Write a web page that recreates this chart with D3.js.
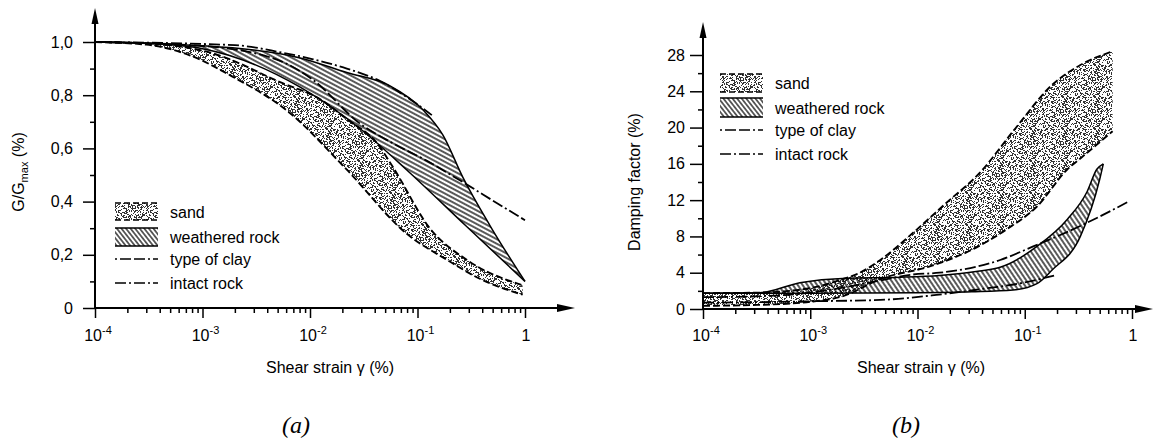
<!DOCTYPE html>
<html>
<head>
<meta charset="utf-8">
<script src="https://cdn.jsdelivr.net/npm/d3@7"></script>
<style>
  body { margin: 0; background: #fff; }
  svg { display: block; }
  text { font-family: "Liberation Sans", Arial, sans-serif; fill: #000; }
</style>
</head>
<body>
<svg id="chart" width="1154" height="443"></svg>
<script>
// ---------- axis ticks and labels ----------
const strainDecades = [1e-4, 1e-3, 1e-2, 1e-1, 1];
const strainDecadeLabels = [["10", "-4"], ["10", "-3"], ["10", "-2"], ["10", "-1"], ["1", ""]];
const modulusTicks = [0, 0.2, 0.4, 0.6, 0.8, 1.0];
const modulusTickLabels = ["0", "0,2", "0,4", "0,6", "0,8", "1,0"];
const modulusMinorTicks = [0.1, 0.3, 0.5, 0.7, 0.9];
const dampingTicks = [0, 4, 8, 12, 16, 20, 24, 28];
const dampingMinorTicks = [2, 6, 10, 14, 18, 22, 26];
const legendLabels = ["sand", "weathered rock", "type of clay", "intact rock"];

// ---------- (a) G/Gmax vs shear strain [strain %, G/Gmax] ----------
const sandUpperA = [[0.0001, 1.0], [0.0003, 0.995], [0.0013, 0.955], [0.0052, 0.85], [0.013, 0.78],
  [0.022, 0.71], [0.042, 0.62], [0.059, 0.53], [0.13, 0.30], [0.29, 0.18], [0.95, 0.085]];
const sandLowerA = [[0.0001, 1.0], [0.0003, 0.99], [0.00076, 0.95], [0.0019, 0.87], [0.0062, 0.74],
  [0.022, 0.52], [0.079, 0.28], [0.19, 0.18], [0.38, 0.11], [0.95, 0.05]];
const rockUpperA = [[0.0001, 1.0], [0.0019, 0.978], [0.0081, 0.94], [0.022, 0.885], [0.0555, 0.835],
  [0.1125, 0.745], [0.1725, 0.65], [0.265, 0.49], [0.472, 0.31], [1.0, 0.10]];
const rockLowerA = [[0.0001, 1.0], [0.0003, 0.995], [0.001, 0.975], [0.0081, 0.83], [0.03, 0.67],
  [0.079, 0.52], [0.28, 0.31], [1.0, 0.10]];
const clayA = [[0.0001, 1.0], [0.001, 0.985], [0.0052, 0.93], [0.0081, 0.89], [0.0107, 0.857],
  [0.029, 0.694], [0.059, 0.619], [0.12, 0.555], [0.25, 0.479], [0.56, 0.392], [1.0, 0.33]];
const intactA = [[0.0001, 1.0], [0.002, 0.988], [0.0052, 0.962], [0.0107, 0.935], [0.022, 0.90],
  [0.045, 0.853], [0.085, 0.785], [0.136, 0.725]];

// ---------- (b) damping factor vs shear strain [strain %, damping %] ----------
const sandUpperB = [[0.0001, 1.75], [0.00032, 1.8], [0.001, 2.3], [0.0019, 3.2], [0.0029, 4.0],
  [0.0045, 5.4], [0.0091, 8.4], [0.019, 11.8], [0.038, 15.0], [0.078, 19.6], [0.18, 24.7],
  [0.33, 26.9], [0.66, 28.4]];
const sandLowerB = [[0.0001, 0.35], [0.00032, 0.45], [0.001, 0.8], [0.002, 1.4], [0.0045, 3.3],
  [0.013, 4.7], [0.033, 6.6], [0.068, 8.8], [0.13, 11.3], [0.25, 15.4], [0.33, 16.6], [0.66, 19.6]];
const rockUpperB = [[0.0001, 1.75], [0.00034, 1.8], [0.0008, 2.9], [0.0022, 3.4], [0.0069, 3.5],
  [0.016, 3.7], [0.038, 4.2], [0.059, 4.6], [0.13, 6.9], [0.25, 9.9], [0.38, 12.9], [0.47, 15.4], [0.54, 16.0]];
const rockLowerB = [[0.0001, 1.75], [0.001, 1.75], [0.01, 1.8], [0.032, 1.9], [0.078, 2.1],
  [0.13, 2.8], [0.18, 4.3], [0.33, 8.0], [0.5, 14.3], [0.54, 16.0]];
const clayB = [[0.0001, 1.3], [0.00032, 1.4], [0.001, 1.8], [0.0032, 2.8], [0.0091, 3.8], [0.016, 4.0],
  [0.059, 5.4], [0.12, 6.9], [0.2, 8.0], [0.35, 9.3], [0.95, 11.9]];
const intactB = [[0.0001, 0.7], [0.00032, 0.75], [0.001, 0.85], [0.0045, 1.0], [0.015, 1.55],
  [0.045, 2.3], [0.079, 2.7], [0.19, 3.7]];

// ---------- line styles ----------
const DASH_SAND = "7,3";
const DASH_CLAY = "11,3,11,3,2,3";
const DASH_INTACT = "11,3,2,3";

const svg = d3.select("#chart");
const defs = svg.append("defs");

// stipple texture for the sand bands (deterministic speckle)
function addStipple(id, size, density, seed) {
  const p = defs.append("pattern").attr("id", id)
    .attr("width", size).attr("height", size).attr("patternUnits", "userSpaceOnUse");
  let s = seed;
  const next = () => { s = (s * 16807) % 2147483647; return s / 2147483647; };
  const n = Math.round(size * size * density);
  for (let i = 0; i < n; i++) {
    p.append("rect").attr("x", Math.floor(next() * size)).attr("y", Math.floor(next() * size))
      .attr("width", 1).attr("height", 1).attr("fill", "#333");
  }
}
// diagonal hatching for the weathered-rock bands
function addHatch(id, angle, gap, width) {
  const p = defs.append("pattern").attr("id", id)
    .attr("width", 20).attr("height", gap).attr("patternUnits", "userSpaceOnUse")
    .attr("patternTransform", `rotate(${angle})`);
  p.append("line").attr("x1", 0).attr("x2", 20).attr("y1", gap / 2).attr("y2", gap / 2)
    .attr("stroke", "#000").attr("stroke-width", width);
}
addStipple("stipple", 32, 0.48, 12345);
addHatch("hatchA", 28, 4, 1.3);
addHatch("hatchB", 56, 4, 1.3);
addHatch("hatchLegend", 52, 3.6, 1.2);

function panel(cfg) {
  const g = svg.append("g");
  const x = cfg.x, y = cfg.y;
  const line = d3.line().x(d => x(d[0])).y(d => y(d[1])).curve(d3.curveMonotoneX);
  const band = (upper, lower) =>
    line(upper) + line(lower.slice().reverse()).replace(/^M/, "L") + "Z";

  // bands
  g.append("path").attr("d", band(cfg.sandUpper, cfg.sandLower)).attr("fill", "url(#stipple)");
  g.append("path").attr("d", band(cfg.rockUpper, cfg.rockLower)).attr("fill", `url(#${cfg.hatch})`);

  // band outlines
  [cfg.sandUpper, cfg.sandLower].forEach(s =>
    g.append("path").attr("d", line(s)).attr("fill", "none").attr("stroke", "#000")
      .attr("stroke-width", 1.9).attr("stroke-dasharray", DASH_SAND));
  [cfg.rockUpper, cfg.rockLower].forEach(s =>
    g.append("path").attr("d", line(s)).attr("fill", "none").attr("stroke", "#000")
      .attr("stroke-width", 1.5));

  // single curves
  g.append("path").attr("d", line(cfg.clay)).attr("fill", "none").attr("stroke", "#000")
    .attr("stroke-width", 1.8).attr("stroke-dasharray", DASH_CLAY);
  g.append("path").attr("d", line(cfg.intact)).attr("fill", "none").attr("stroke", "#000")
    .attr("stroke-width", 1.8).attr("stroke-dasharray", DASH_INTACT);

  // axes
  const x0 = x.range()[0], y0 = y(0);
  const yAxis = d3.axisLeft(y).tickValues(cfg.yTicks).tickSize(cfg.yTickLen)
    .tickPadding(cfg.yPad).tickFormat((d, i) => cfg.yLabels[i]);
  const ya = g.append("g").attr("transform", `translate(${x0},0)`).call(yAxis);
  const yMinor = d3.axisLeft(y).tickValues(cfg.yMinor).tickSize(5).tickFormat("");
  const ym = g.append("g").attr("transform", `translate(${x0},0)`).call(yMinor);

  const xAxis = d3.axisBottom(x).tickValues(strainDecades).tickSize(10).tickFormat("");
  const xa = g.append("g").attr("transform", `translate(0,${y0})`).call(xAxis);
  const xMinor = d3.axisBottom(x).tickValues(x.ticks().filter(t => !strainDecades.includes(t)))
    .tickSize(5).tickFormat("");
  const xm = g.append("g").attr("transform", `translate(0,${y0})`).call(xMinor);

  [ya, ym, xa, xm].forEach(a => {
    a.select(".domain").remove();
    a.selectAll(".tick line").attr("stroke", "#000").attr("stroke-width", 1.5);
  });
  ya.selectAll(".tick text").style("font-size", "16px").style("font-family", "Liberation Sans, Arial, sans-serif");

  // decade labels with superscript exponents
  strainDecades.forEach((v, i) => {
    const t = g.append("text").attr("x", x(v) + (strainDecadeLabels[i][1] ? 3 : 1)).attr("y", 341)
      .attr("text-anchor", "middle").style("font-size", "16px");
    t.append("tspan").text(strainDecadeLabels[i][0]);
    if (strainDecadeLabels[i][1]) {
      t.append("tspan").attr("dy", -7).style("font-size", "11px").text(strainDecadeLabels[i][1]);
    }
  });

  // axis lines with arrow heads
  g.append("line").attr("x1", x0).attr("x2", x0).attr("y1", y0).attr("y2", cfg.yTip + 10)
    .attr("stroke", "#000").attr("stroke-width", 2);
  g.append("path").attr("d", `M${x0},${cfg.yTip} L${x0 + 3.5},${cfg.yTip + 16} L${x0 - 3.5},${cfg.yTip + 16} Z`)
    .attr("fill", "#000");
  g.append("line").attr("x1", x0).attr("x2", cfg.xTip - 10).attr("y1", y0).attr("y2", y0)
    .attr("stroke", "#000").attr("stroke-width", 2);
  g.append("path").attr("d", `M${cfg.xTip},${y0} L${cfg.xTip - 18},${y0 - 4} L${cfg.xTip - 18},${y0 + 4} Z`)
    .attr("fill", "#000");

  // axis titles
  g.append("text").attr("x", cfg.titleX).attr("y", 373).attr("text-anchor", "middle")
    .style("font-size", "16px").text("Shear strain γ (%)");
  g.append("text").attr("x", cfg.tagX).attr("y", 433).attr("text-anchor", "middle")
    .style("font-family", "Liberation Serif, Times New Roman, serif").style("font-style", "italic")
    .style("font-size", "24px").text(cfg.tag);

  // legend
  const L = cfg.legend;
  const sw = 43;
  g.append("rect").attr("x", L.x).attr("y", L.sand[0]).attr("width", sw).attr("height", L.sand[1] - L.sand[0])
    .attr("fill", "url(#stipple)");
  [L.sand[0], L.sand[1]].forEach(yy =>
    g.append("line").attr("x1", L.x).attr("x2", L.x + sw).attr("y1", yy).attr("y2", yy)
      .attr("stroke", "#000").attr("stroke-width", 1.6).attr("stroke-dasharray", "6,3"));
  g.append("rect").attr("x", L.x).attr("y", L.rock[0]).attr("width", sw).attr("height", L.rock[1] - L.rock[0])
    .attr("fill", "url(#hatchLegend)");
  [L.rock[0], L.rock[1]].forEach(yy =>
    g.append("line").attr("x1", L.x).attr("x2", L.x + sw).attr("y1", yy).attr("y2", yy)
      .attr("stroke", "#000").attr("stroke-width", 1.4));
  g.append("line").attr("x1", L.x).attr("x2", L.x + sw).attr("y1", L.clay).attr("y2", L.clay)
    .attr("stroke", "#000").attr("stroke-width", 1.6).attr("stroke-dasharray", "2,3,11,3,11,3");
  g.append("line").attr("x1", L.x).attr("x2", L.x + sw).attr("y1", L.intact).attr("y2", L.intact)
    .attr("stroke", "#000").attr("stroke-width", 1.6).attr("stroke-dasharray", "11,3,2,3");
  const rows = [(L.sand[0] + L.sand[1]) / 2, (L.rock[0] + L.rock[1]) / 2, L.clay, L.intact];
  legendLabels.forEach((lab, i) =>
    g.append("text").attr("x", L.x + 55).attr("y", rows[i] + 6).style("font-size", "16px").text(lab));

  return g;
}

// ---------- panel (a) ----------
const xA = d3.scaleLog().domain([1e-4, 1]).range([95, 525]);
const yA = d3.scaleLinear().domain([0, 1]).range([308, 42]);
panel({
  x: xA, y: yA, hatch: "hatchA",
  sandUpper: sandUpperA, sandLower: sandLowerA, rockUpper: rockUpperA, rockLower: rockLowerA,
  clay: clayA, intact: intactA,
  yTicks: modulusTicks, yLabels: modulusTickLabels, yMinor: modulusMinorTicks, yTickLen: 12, yPad: 10,
  yTip: 8, xTip: 575, titleX: 330, tagX: 296, tag: "(a)",
  legend: { x: 115, sand: [203, 220], rock: [228, 246], clay: 259, intact: 283 }
});
svg.append("text").attr("transform", "translate(24,172) rotate(-90)").attr("text-anchor", "middle")
  .style("font-size", "16px")
  .call(t => {
    t.append("tspan").text("G/G");
    t.append("tspan").attr("dy", 4).style("font-size", "11px").text("max");
    t.append("tspan").attr("dy", -4).text(" (%)");
  });

// ---------- panel (b) ----------
const xB = d3.scaleLog().domain([1e-4, 1]).range([703, 1132]);
const yB = d3.scaleLinear().domain([0, 28]).range([309, 55]);
panel({
  x: xB, y: yB, hatch: "hatchB",
  sandUpper: sandUpperB, sandLower: sandLowerB, rockUpper: rockUpperB, rockLower: rockLowerB,
  clay: clayB, intact: intactB,
  yTicks: dampingTicks, yLabels: dampingTicks.map(String), yMinor: dampingMinorTicks, yTickLen: 13, yPad: 5,
  yTip: 22, xTip: 1153, titleX: 921, tagX: 906, tag: "(b)",
  legend: { x: 720, sand: [74, 92], rock: [98, 117], clay: 130, intact: 154 }
});
svg.append("text").attr("transform", "translate(640,182) rotate(-90)").attr("text-anchor", "middle")
  .style("font-size", "16px").text("Damping factor (%)");
</script>
</body>
</html>
